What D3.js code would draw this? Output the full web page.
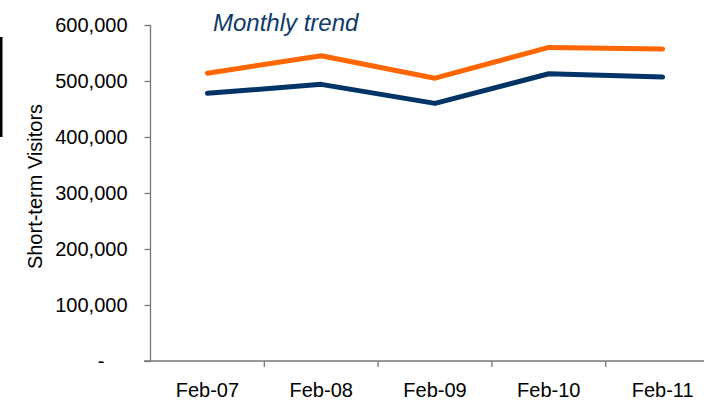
<!DOCTYPE html>
<html>
<head>
<meta charset="utf-8">
<script src="https://cdn.jsdelivr.net/npm/d3@7"></script>
<style>
  body { margin: 0; background: #fff; }
  svg { display: block; font-family: "Liberation Sans", Arial, sans-serif; }
  .axis path, .axis line { stroke: #777; stroke-width: 1.3; }
  .axis text { fill: #000; font-size: 20px; }
</style>
</head>
<body>
<div id="chart"></div>
<script>
const months = ["Feb-07", "Feb-08", "Feb-09", "Feb-10", "Feb-11"];
const orangeSeries = [514000, 545000, 505000, 560000, 557000];
const navySeries = [478000, 494000, 460000, 513000, 507000];
const yTicks = [0, 100000, 200000, 300000, 400000, 500000, 600000];

const width = 704;
const height = 402;
const numberFormatter = new Intl.NumberFormat("en-US");

const svg = d3.select("#chart")
  .append("svg")
  .attr("width", width)
  .attr("height", height);

const x = d3.scaleBand()
  .domain(months)
  .range([150.5, 719.5]);

const y = d3.scaleLinear()
  .domain([0, 600000])
  .range([361, 25]);

// small black bar at the left edge
svg.append("rect")
  .attr("x", 0)
  .attr("y", 37)
  .attr("width", 2.5)
  .attr("height", 100)
  .attr("fill", "#000");

// y axis
const yAxis = svg.append("g")
  .attr("class", "axis")
  .attr("transform", "translate(150.5,0)")
  .call(d3.axisLeft(y).tickValues(yTicks).tickSize(6).tickPadding(17)
    .tickFormat((d) => d === 0 ? "-" : numberFormatter.format(d)));
yAxis.select(".domain").attr("d", `M0,${y(600000)}V${y(0)}`);
yAxis.selectAll(".tick text")
  .filter((d) => d === 0)
  .attr("x", -46);

// x axis
const xAxis = svg.append("g")
  .attr("class", "axis")
  .attr("transform", `translate(0,${y(0)})`)
  .call(d3.axisBottom(x).tickSize(0).tickPadding(22));
xAxis.select(".domain").attr("d", `M144,0H${width}`);
xAxis.selectAll(".tick-mark")
  .data(months.slice(1))
  .join("line")
  .attr("class", "tick-mark")
  .attr("x1", (d) => x(d))
  .attr("x2", (d) => x(d))
  .attr("y1", 0)
  .attr("y2", 6)
  .attr("stroke", "#777")
  .attr("stroke-width", 1.3);

// y axis title
svg.append("text")
  .attr("transform", "translate(42,186.5) rotate(-90)")
  .attr("text-anchor", "middle")
  .attr("font-size", 20)
  .attr("fill", "#000")
  .text("Short-term Visitors");

// chart title
svg.append("text")
  .attr("x", 213)
  .attr("y", 31)
  .attr("font-size", 24)
  .attr("font-style", "italic")
  .attr("fill", "#0f3a6b")
  .text("Monthly trend");

const line = d3.line()
  .x((d, i) => x(months[i]) + x.bandwidth() / 2)
  .y((d) => y(d));

svg.append("path")
  .datum(orangeSeries)
  .attr("d", line)
  .attr("fill", "none")
  .attr("stroke", "#ff6600")
  .attr("stroke-width", 5)
  .attr("stroke-linecap", "round")
  .attr("stroke-linejoin", "round");

svg.append("path")
  .datum(navySeries)
  .attr("d", line)
  .attr("fill", "none")
  .attr("stroke", "#003366")
  .attr("stroke-width", 5)
  .attr("stroke-linecap", "round")
  .attr("stroke-linejoin", "round");
</script>
</body>
</html>
